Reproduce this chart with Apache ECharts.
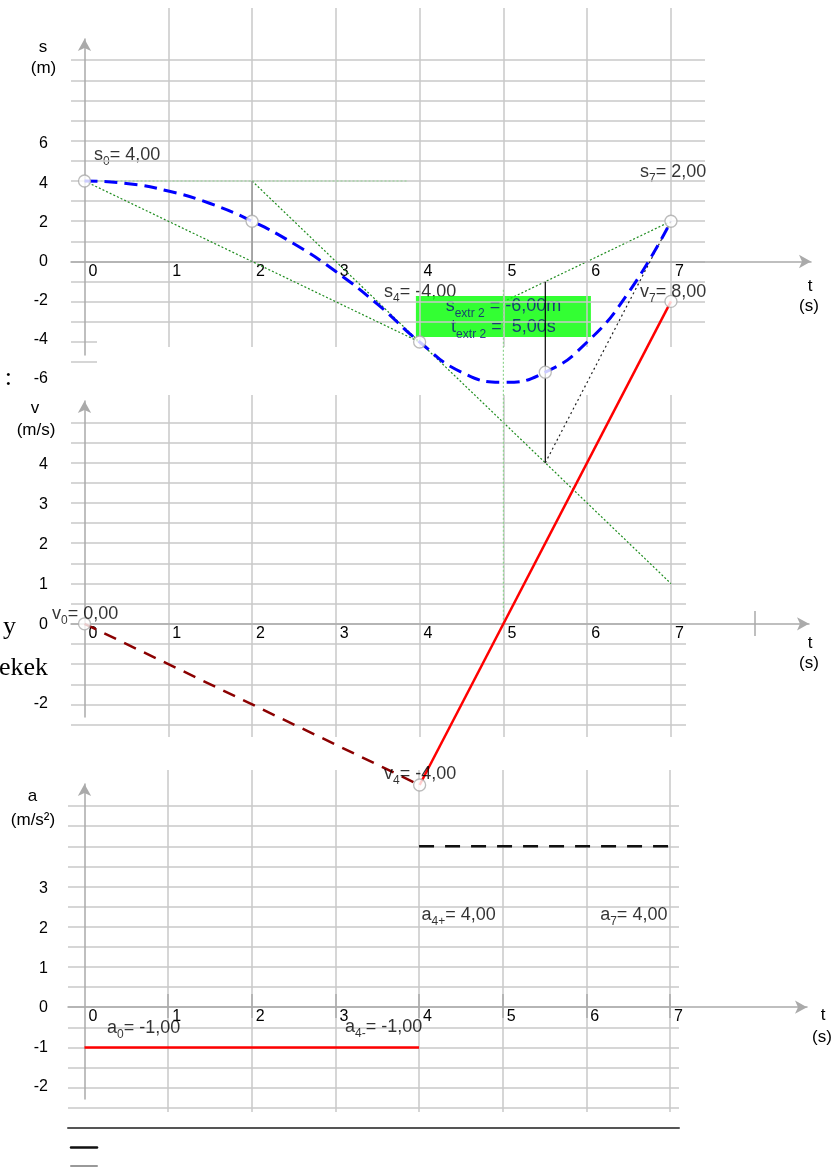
<!DOCTYPE html>
<html>
<head>
<meta charset="utf-8">
<script src="https://cdn.jsdelivr.net/npm/echarts@6/dist/echarts.min.js"></script>
<style>
  html, body { margin: 0; padding: 0; background: #fff; }
  #chart { width: 840px; height: 1167px; }
</style>
</head>
<body>
<div id="chart"></div>
<script>
// ---- data ----
// s(t), read every half second
const sTimes = [0, 0.5, 1, 1.5, 2, 2.5, 3, 3.5, 4, 4.5, 5, 5.5, 6, 6.5, 7];
const sValues = [4, 3.88, 3.5, 2.88, 2, 0.88, -0.5, -2.13, -4, -5.5, -6, -5.5, -4, -1.5, 2];
const sMarkT = [0, 2, 4, 5.5, 7];
const sMarkV = [4, 2, -4, -5.5, 2];
const sLabelT = [0, 4, 7];
const sLabelV = [4, -4, 2];
const sLabelSub = ['0', '4', '7'];
const sExtr = [5, -6]; // t, s of the extremum

// construction lines on the s graph: [t1, s1, t2, s2]
const chordA = [0, 4, 4, -4];
const tangentAt4 = [2, 4, 7, -16];
const chordB = [5, -2, 7, 2];
const tangentAt0 = [0, 4, 3.85, 4];
const tangentAt7 = [5.5, -10, 7, 2];
const dropAt2 = [2, 4, 2, 0];
const dropAt55 = [5.5, -1, 5.5, -10];

// v(t)
const vBrakeT = [0, 4];
const vBrakeV = [0, -4];
const vAccT = [4, 7];
const vAccV = [-4, 8];
const vMarkT = [0, 4, 7];
const vMarkV = [0, -4, 8];
const vLabelSub = ['0', '4', '7'];
const vZeroLine = [5, 0, 5, 8.3];

// a(t)
const aBrakeT = [0, 4];
const aBrakeV = [-1, -1];
const aAccT = [4, 7];
const aAccV = [4, 4];
const aLabelT = [0, 4, 4, 7];
const aLabelV = [-1, -1, 4, 4];
const aLabelSub = ['0', '4-', '4+', '7'];

// tick labels
const tTickLabels = ['0', '1', '2', '3', '4', '5', '6', '7'];
const sTickLabels = [-6, -4, -2, 0, 2, 4, 6];
const vTickLabels = [-2, 0, 1, 2, 3, 4];
const aTickLabels = [-2, -1, 0, 1, 2, 3];

// ---- layout ----
const FONT = 'Liberation Sans, Arial, sans-serif';
const P = {
  s: { x0: 84.5, kx: 83.78, y0: 261.5, ky: 20.13 },
  v: { x0: 84.5, kx: 83.78, y0: 623.8, ky: 40.3 },
  a: { x0: 84.5, kx: 83.64, y0: 1007.2, ky: 40.23 },
  sLab: { x0: 58, kx: 10, y0: 261.5, ky: 19.58 },
  vLab: { x0: 58, kx: 10, y0: 624.2, ky: 39.92 },
  aLab: { x0: 58, kx: 10, y0: 1007.8, ky: 39.6 }
};
const X = (p, t) => p.x0 + p.kx * t;
const Y = (p, v) => p.y0 - p.ky * v;
const tAt = (p, px) => (px - p.x0) / p.kx;
const vAt = (p, py) => (p.y0 - py) / p.ky;

const grids = [], xAxes = [], yAxes = [];
function axis(idx, min, max, extra) {
  return Object.assign({
    type: 'value', gridIndex: idx, min, max, z: 3,
    axisLine: { show: false, onZero: false },
    axisTick: { show: false },
    axisLabel: { show: false },
    splitLine: { show: false }
  }, extra);
}
function layer(p, tr, vr, xo, yo) {
  const left = X(p, tr[0]), right = X(p, tr[1]);
  const top = Y(p, vr[1]), bottom = Y(p, vr[0]);
  grids.push({ left, top, width: right - left, height: bottom - top, outerBoundsMode: 'none' });
  const i = grids.length - 1;
  xAxes.push(axis(i, tr[0], tr[1], xo || {}));
  yAxes.push(axis(i, vr[0], vr[1], yo || {}));
  return i;
}

const gridLine = { show: true, lineStyle: { color: '#c8c8c8', width: 1.5 } };
const gridLineNoMin = { show: true, showMinLine: false, lineStyle: { color: '#c8c8c8', width: 1.5 } };
const tickLine = { show: true, showMinLine: false, lineStyle: { color: '#aaaaaa', width: 1.5 } };
const arrowLine = {
  show: true, onZero: false, symbol: ['none', 'arrow'], symbolSize: [10, 12],
  lineStyle: { color: '#aaaaaa', width: 1.5 }
};
const xLab = margin => ({
  show: true, align: 'left', padding: [0, 0, 0, 4], margin,
  fontSize: 16, fontFamily: FONT, color: '#000',
  formatter: v => tTickLabels[v] || ''
});
const yLab = list => ({
  show: true, margin: 10, fontSize: 16, fontFamily: FONT, color: '#000',
  formatter: v => (list.includes(v) ? String(v) : '')
});

// s panel
const sMain = layer(P.s, [tAt(P.s, 71), tAt(P.s, 705)], [-3, 10], {}, { interval: 1, splitLine: gridLine });
layer(P.s, [0, 7], [vAt(P.s, 347), vAt(P.s, 8)], { interval: 1, splitLine: gridLineNoMin });
layer(P.s, [tAt(P.s, 71), tAt(P.s, 97)], [-5, -4], {}, { interval: 1, splitLine: gridLine });
layer(P.s, [0, 1], [vAt(P.s, 355), vAt(P.s, 39)], {}, { axisLine: arrowLine });
layer(P.s, [tAt(P.s, 71), tAt(P.s, 811)], [0, 1], { axisLine: arrowLine });
layer(P.s, [0, 7], [0, 1], { interval: 1, axisLabel: xLab(2) });
layer(P.sLab, [0, 1], [-6, 6], {}, { interval: 2, axisLabel: yLab(sTickLabels) });

// v panel
const vMain = layer(P.v, [tAt(P.v, 71), tAt(P.v, 686)], [-2.5, 5], {}, { interval: 0.5, splitLine: gridLine });
layer(P.v, [0, 7], [vAt(P.v, 737), vAt(P.v, 395)], { interval: 1, splitLine: gridLineNoMin });
layer(P.v, [0, 1], [vAt(P.v, 717), vAt(P.v, 401)], {}, { axisLine: arrowLine });
layer(P.v, [tAt(P.v, 71), tAt(P.v, 809)], [0, 1], { axisLine: arrowLine });
layer(P.v, [0, 8], [vAt(P.v, 636), vAt(P.v, 611)], { interval: 8, splitLine: tickLine });
layer(P.v, [0, 7], [0, 1], { interval: 1, axisLabel: xLab(2) });
layer(P.vLab, [0, 1], [-2, 4], {}, { interval: 1, axisLabel: yLab(vTickLabels) });

// a panel
const aMain = layer(P.a, [tAt(P.a, 68), tAt(P.a, 679)], [-2.5, 5], {}, { interval: 0.5, splitLine: gridLine });
layer(P.a, [0, 7], [vAt(P.a, 1112), vAt(P.a, 770)], { interval: 1, splitLine: gridLineNoMin });
layer(P.a, [0, 1], [vAt(P.a, 1099), vAt(P.a, 784)], {}, { axisLine: arrowLine });
layer(P.a, [tAt(P.a, 68), tAt(P.a, 807)], [0, 1], { axisLine: arrowLine });
layer(P.a, [0, 7], [vAt(P.a, 1018), vAt(P.a, 994)], { interval: 1, splitLine: tickLine });
layer(P.a, [0, 7], [0, 1], { interval: 1, axisLabel: xLab(1) });
layer(P.aLab, [0, 1], [-2, 3], {}, { interval: 1, axisLabel: yLab(aTickLabels) });
layer(P.a, [tAt(P.a, 68), tAt(P.a, 679)], [-3, -2.9],
  { axisLine: { show: true, onZero: false, lineStyle: { color: '#555', width: 2 } } });
layer(P.a, [tAt(P.a, 71), tAt(P.a, 97)], [vAt(P.a, 1147), vAt(P.a, 1140)],
  { axisLine: { show: true, onZero: false, lineStyle: { color: '#111', width: 2.5 } } });
layer(P.a, [tAt(P.a, 71), tAt(P.a, 97)], [vAt(P.a, 1166), vAt(P.a, 1160)],
  { axisLine: { show: true, onZero: false, lineStyle: { color: '#999', width: 2 } } });

// ---- series ----
const fmt = v => v.toFixed(2).replace('.', ',');
const pairs = (ts, vs) => ts.map((t, i) => [t, vs[i]]);
const seg = a => [[a[0], a[1]], [a[2], a[3]]];

function line(idx, data, style, extra) {
  return Object.assign({
    type: 'line', xAxisIndex: idx, yAxisIndex: idx, data,
    symbol: 'none', showSymbol: false, clip: false, silent: true, z: 5,
    lineStyle: style
  }, extra || {});
}
function circles(idx, data) {
  return {
    type: 'scatter', xAxisIndex: idx, yAxisIndex: idx, data, clip: false, silent: true, z: 6,
    symbol: 'circle', symbolSize: 12,
    itemStyle: { color: '#fff', borderColor: '#aaaaaa', borderWidth: 1.3 }
  };
}
const rich = {
  n: { fontSize: 18, fontFamily: FONT, color: '#000', lineHeight: 20 },
  b: { fontSize: 12, fontFamily: FONT, color: '#000', lineHeight: 20, padding: [13, 0, 0, 0] }
};
function labels(idx, letter, ts, vs, subs, offsets, z) {
  return {
    type: 'scatter', xAxisIndex: idx, yAxisIndex: idx, clip: false, silent: true, z,
    symbol: 'circle', symbolSize: 1, itemStyle: { color: 'rgba(0,0,0,0)' },
    data: ts.map((t, i) => ({ value: [t, vs[i]], sub: subs[i], label: { offset: offsets[i] } })),
    label: {
      show: true, position: 'inside', align: 'left', verticalAlign: 'middle', rich,
      formatter: p => `{n|${letter}}{b|${p.data.sub}}{n|= ${fmt(p.value[1])}}`
    }
  };
}

const green = { color: '#1e8c1e', width: 1.2, type: [2, 2] };
const lightGreen = { color: '#8fd48f', width: 1.2, type: [2, 2] };

const series = [
  line(sMain, seg(chordA), green),
  line(sMain, seg(tangentAt4), green),
  line(sMain, seg(chordB), green, { z: 1 }),
  line(sMain, seg(tangentAt0), lightGreen),
  line(sMain, seg(dropAt2), { color: '#999', width: 1.5 }),
  line(sMain, seg(dropAt55), { color: '#000', width: 1.2 }),
  line(sMain, seg(tangentAt7), { color: '#222', width: 1.2, type: [2, 3] }),
  line(vMain, seg(vZeroLine), lightGreen),
  line(sMain, pairs(sTimes, sValues), { color: '#0000ff', width: 3, type: [13, 7] }, { smooth: true }),
  line(vMain, pairs(vBrakeT, vBrakeV), { color: '#8b0000', width: 2.5, type: [13, 9] }),
  line(vMain, pairs(vAccT, vAccV), { color: '#ff0000', width: 2.5 }),
  line(aMain, pairs(aBrakeT, aBrakeV), { color: '#ff0000', width: 2.5 }),
  line(aMain, pairs(aAccT, aAccV), { color: '#111', width: 2.5, type: [15, 11] }),
  circles(sMain, pairs(sMarkT, sMarkV)),
  circles(vMain, pairs(vMarkT, vMarkV)),
  labels(sMain, 's', sLabelT, sLabelV, sLabelSub, [[9.5, -26], [-35.6, -50], [-31, -49]], 1),
  labels(vMain, 'v', vMarkT, vMarkV, vLabelSub, [[-32.5, -10], [-35.6, -11], [-31, -9.4]], 7),
  labels(aMain, 'a', aLabelT, aLabelV, aLabelSub, [[22.5, -19.4], [-74, -20.4], [2.5, 69], [-69.8, 69]], 7),
  {
    // extremum box
    type: 'scatter', xAxisIndex: sMain, yAxisIndex: sMain, clip: false, silent: true, z: 2,
    symbol: 'circle', symbolSize: 1, itemStyle: { color: 'rgba(0,0,0,0)' },
    data: [sExtr],
    label: {
      show: true, position: 'inside', offset: [0, -65.8],
      width: 175, height: 41, padding: 0, align: 'center', verticalAlign: 'middle',
      backgroundColor: '#00ff00',
      rich: {
        n: { fontSize: 18, fontFamily: FONT, color: '#101080', lineHeight: 21 },
        b: { fontSize: 12, fontFamily: FONT, color: '#101080', lineHeight: 21, padding: [15, 0, 0, 0] }
      },
      formatter: p => `{n|s}{b|extr 2}{n| = ${fmt(p.value[1])}m}\n{n|t}{b|extr 2}{n| =  ${fmt(p.value[0])}s}`
    }
  }
];

// axis titles and stray page text
const txt = (text, x, y, extra) => ({
  type: 'text', x, y, silent: true,
  style: Object.assign({ text, fontSize: 17, fontFamily: FONT, fill: '#000', align: 'center', verticalAlign: 'middle' }, extra || {})
});
const serif = { fontSize: 26, fontFamily: 'Liberation Serif, Times New Roman, serif', align: 'right' };
const graphic = [
  txt('s', 43, 47), txt('(m)', 43.5, 68),
  txt('v', 35, 408), txt('(m/s)', 36, 430),
  txt('a', 32.5, 796), txt('(m/s²)', 33, 820),
  txt('t', 810, 286), txt('(s)', 809, 306),
  txt('t', 810, 643), txt('(s)', 809, 663),
  txt('t', 823, 1015), txt('(s)', 822, 1037),
  txt(':', 12, 378, serif), txt('y', 16, 627, serif), txt('ekek', 48, 668, serif)
];

const chart = echarts.init(document.getElementById('chart'));
chart.setOption({
  animation: false,
  backgroundColor: '#fff',
  textStyle: { fontFamily: FONT },
  grid: grids,
  xAxis: xAxes,
  yAxis: yAxes,
  series,
  graphic
});
</script>
</body>
</html>
